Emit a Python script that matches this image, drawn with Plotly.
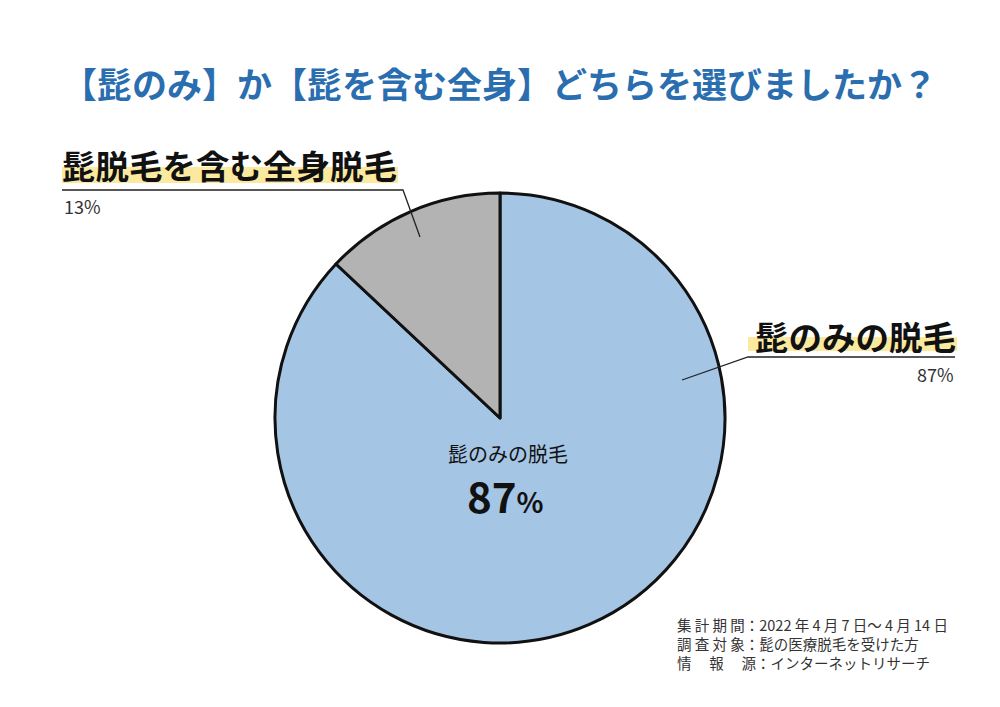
import plotly.graph_objects as go

W, H = 1000, 707

categories = ["髭のみの脱毛", "髭脱毛を含む全身脱毛"]
values = [87, 13]
colors = ["#a5c5e5", "#b3b3b3"]

title_text = "【髭のみ】か【髭を含む全身】どちらを選びましたか？"
notes = [
    "集 計 期 間：2022 年 4 月 7 日～ 4 月 14 日",
    "調 査 対 象：髭の医療脱毛を受けた方",
    "情 　報 　源：インターネットリサーチ",
]

FONT = "Noto Sans CJK JP"


def px(x):
    return x / W


def py(y):
    return 1 - y / H


cx, cy, r = 500, 418, 225

fig = go.Figure()
fig.add_trace(go.Pie(
    labels=categories,
    values=values,
    marker=dict(colors=colors, line=dict(color="#111111", width=3)),
    sort=False,
    direction="clockwise",
    rotation=0,
    textinfo="none",
    hoverinfo="none",
    showlegend=False,
    domain=dict(x=[px(cx - r), px(cx + r)], y=[py(cy + r), py(cy - r)]),
))

shapes = []
# highlight bars
shapes.append(dict(type="rect", xref="paper", yref="paper", layer="below",
                   x0=px(62), x1=px(398), y0=py(183), y1=py(167),
                   fillcolor="#fce9a0", line=dict(width=0)))
shapes.append(dict(type="rect", xref="paper", yref="paper", layer="below",
                   x0=px(748), x1=px(957), y0=py(351), y1=py(337),
                   fillcolor="#fce9a0", line=dict(width=0)))
# underline + leader lines
line_style = dict(color="#222222", width=1.3)
shapes.append(dict(type="path", xref="paper", yref="paper",
                   path=f"M {px(62)},{py(190)} L {px(403)},{py(190)} L {px(420)},{py(237)}",
                   line=line_style))
shapes.append(dict(type="path", xref="paper", yref="paper",
                   path=f"M {px(955)},{py(357)} L {px(748)},{py(357)} L {px(682)},{py(380)}",
                   line=line_style))

annotations = []
annotations.append(dict(text=f"<b>{title_text}</b>", x=px(499), y=py(82), xref="paper", yref="paper",
                        showarrow=False, xanchor="center", yanchor="middle",
                        font=dict(family=FONT, size=35, color="#2a6eb0")))
annotations.append(dict(text=f"<b>{categories[1]}</b>", x=px(60), y=py(165), xref="paper", yref="paper",
                        showarrow=False, xanchor="left", yanchor="middle",
                        font=dict(family=FONT, size=33.5, color="#111111")))
annotations.append(dict(text=f"{values[1]}%", x=px(62), y=py(206), xref="paper", yref="paper",
                        showarrow=False, xanchor="left", yanchor="middle",
                        font=dict(family=FONT, size=18, color="#333333")))
annotations.append(dict(text=f"<b>{categories[0]}</b>", x=px(958), y=py(335), xref="paper", yref="paper",
                        showarrow=False, xanchor="right", yanchor="middle",
                        font=dict(family=FONT, size=33.5, color="#111111")))
annotations.append(dict(text=f"{values[0]}%", x=px(956), y=py(374), xref="paper", yref="paper",
                        showarrow=False, xanchor="right", yanchor="middle",
                        font=dict(family=FONT, size=18, color="#333333")))
annotations.append(dict(text=categories[0], x=px(508), y=py(453), xref="paper", yref="paper",
                        showarrow=False, xanchor="center", yanchor="middle",
                        font=dict(family=FONT, size=20, color="#111111")))
annotations.append(dict(text=f"<b>{values[0]}</b><b><span style='font-size:28px'>%</span></b>",
                        x=px(505), y=py(494), xref="paper", yref="paper",
                        showarrow=False, xanchor="center", yanchor="middle",
                        font=dict(family=FONT, size=42, color="#111111")))
for i, t in enumerate(notes):
    annotations.append(dict(text=t, x=px(675), y=py(624 + i * 19), xref="paper", yref="paper",
                            showarrow=False, xanchor="left", yanchor="middle",
                            font=dict(family=FONT, size=14.5, color="#333333")))

fig.update_layout(
    width=W, height=H,
    margin=dict(l=0, r=0, t=0, b=0),
    paper_bgcolor="white", plot_bgcolor="white",
    shapes=shapes, annotations=annotations,
)

fig.write_html("out.html")
